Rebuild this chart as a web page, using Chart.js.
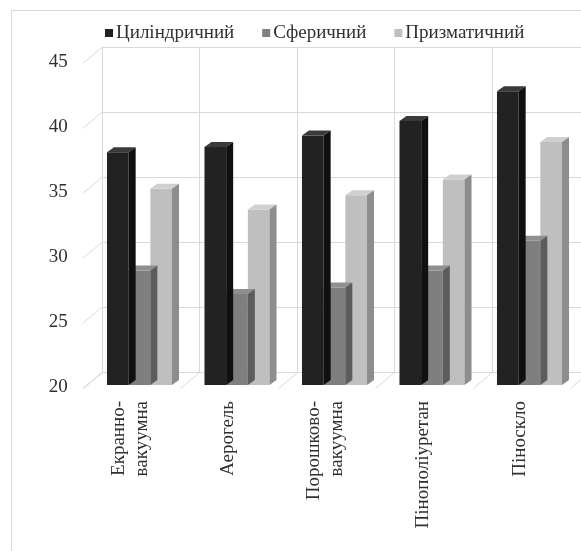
<!DOCTYPE html>
<html>
<head>
<meta charset="utf-8">
<script src="https://cdn.jsdelivr.net/npm/chart.js@4/dist/chart.umd.min.js"></script>
<style>
  html, body { margin: 0; padding: 0; background: #ffffff; }
  #wrap { width: 581px; height: 551px; }
</style>
</head>
<body>
<div id="wrap"><canvas id="c" width="581" height="551"></canvas></div>
<script>
// Insulation types (x axis) and the three tank shapes (series)
const categories = [['Екранно-', 'вакуумна'], 'Аерогель', ['Порошково-', 'вакуумна'], 'Пінополіуретан', 'Піноскло'];
const seriesNames = ['Циліндричний', 'Сферичний', 'Призматичний'];
const cylindrical = [37.9, 38.3, 39.2, 40.3, 42.6];
const spherical   = [28.8, 27.0, 27.5, 28.8, 31.1];
const prismatic   = [35.1, 33.5, 34.6, 35.8, 38.7];
const yTicks = [20, 25, 30, 35, 40, 45];

const FONT = '"Liberation Serif", "Times New Roman", serif';
const TEXT = '#303030';
const GRID = '#d9d9d9';

// front colours and shaded 3D faces for each series
const fronts = ['#222222', '#7f7f7f', '#bfbfbf'];
const tops   = ['#3a3a3a', '#8f8f8f', '#d0d0d0'];
const sides  = ['#101010', '#5c5c5c', '#8d8d8d'];

// depth of the back wall and of each column
const WALL = { x: 19, y: -16 };
const BAR = { x: 7, y: -5 };

// outer frame of the chart object
const framePlugin = {
  id: 'frame',
  beforeDraw(chart) {
    const ctx = chart.ctx;
    ctx.save();
    ctx.strokeStyle = GRID;
    ctx.lineWidth = 1;
    ctx.strokeRect(11.5, 10.5, 800, 800);
    ctx.restore();
  }
};

// back wall, floor and the slanted tick connectors
const wallPlugin = {
  id: 'wall',
  beforeDatasetsDraw(chart) {
    const { ctx, scales: { x, y } } = chart;
    const frontX = x.getPixelForValue(-0.5) - 8;
    const backShift = WALL.x - 8;
    const backY = v => y.getPixelForValue(v) + 3 + WALL.y;
    ctx.save();
    ctx.strokeStyle = GRID;
    ctx.lineWidth = 1;
    // horizontal gridlines on the back wall + connectors to the axis labels
    yTicks.forEach(v => {
      const yb = Math.round(backY(v)) + 0.5;
      ctx.beginPath();
      ctx.moveTo(frontX + WALL.x, yb);
      ctx.lineTo(chart.width + 5, yb);
      ctx.stroke();
      ctx.beginPath();
      ctx.moveTo(frontX, yb - WALL.y);
      ctx.lineTo(frontX + WALL.x, yb);
      ctx.stroke();
    });
    // vertical dividers on the back wall and floor diagonals
    const topY = Math.round(backY(yTicks[yTicks.length - 1])) + 0.5;
    const botY = Math.round(backY(yTicks[0])) + 0.5;
    for (let i = 0; i <= categories.length; i++) {
      const bx = Math.round(x.getPixelForValue(i - 0.5) + backShift) + 0.5;
      ctx.beginPath();
      ctx.moveTo(bx, topY);
      ctx.lineTo(bx, botY);
      ctx.stroke();
      ctx.beginPath();
      ctx.moveTo(bx, botY);
      ctx.lineTo(bx - WALL.x, botY - WALL.y);
      ctx.stroke();
    }
    ctx.restore();
  }
};

// top and right faces that give the columns their depth
const depthPlugin = {
  id: 'depth',
  afterDatasetDraw(chart, args) {
    const ctx = chart.ctx;
    const i = args.index;
    const floor = chart.chartArea.bottom;
    ctx.save();
    args.meta.data.forEach(el => {
      const p = el.getProps(['x', 'y', 'base', 'width'], true);
      const base = Math.min(p.base, floor);
      const x0 = p.x - p.width / 2, x1 = p.x + p.width / 2;
      ctx.fillStyle = tops[i];
      ctx.beginPath();
      ctx.moveTo(x0, p.y);
      ctx.lineTo(x1, p.y);
      ctx.lineTo(x1 + BAR.x, p.y + BAR.y);
      ctx.lineTo(x0 + BAR.x, p.y + BAR.y);
      ctx.closePath();
      ctx.fill();
      ctx.fillStyle = sides[i];
      ctx.beginPath();
      ctx.moveTo(x1, p.y);
      ctx.lineTo(x1 + BAR.x, p.y + BAR.y);
      ctx.lineTo(x1 + BAR.x, base + BAR.y);
      ctx.lineTo(x1, base);
      ctx.closePath();
      ctx.fill();
    });
    ctx.restore();
  }
};

// rotated category labels, multi-line labels centred on the category
const xLabelPlugin = {
  id: 'xLabels',
  afterDraw(chart) {
    const { ctx, scales: { x } } = chart;
    const lineH = 23;
    ctx.save();
    ctx.fillStyle = TEXT;
    ctx.font = '19px ' + FONT;
    ctx.textAlign = 'right';
    ctx.textBaseline = 'middle';
    categories.forEach((label, i) => {
      const lines = Array.isArray(label) ? label : [label];
      const cx = x.getPixelForValue(i) - 9;
      lines.forEach((line, k) => {
        const lx = cx - (lines.length - 1) * lineH / 2 + k * lineH;
        ctx.save();
        ctx.translate(lx, chart.chartArea.bottom + 16);
        ctx.rotate(-Math.PI / 2);
        ctx.fillText(line, 0, 0);
        ctx.restore();
      });
    });
    ctx.restore();
  }
};

// legend row above the plot
const legendPlugin = {
  id: 'legendRow',
  afterDraw(chart) {
    const ctx = chart.ctx;
    ctx.save();
    ctx.font = '19px ' + FONT;
    ctx.textBaseline = 'middle';
    ctx.textAlign = 'left';
    let cx = 105;
    const cy = 33;
    chart.data.datasets.forEach(ds => {
      ctx.fillStyle = ds.backgroundColor;
      ctx.fillRect(cx, cy - 4, 8, 8);
      ctx.fillStyle = TEXT;
      ctx.fillText(ds.label, cx + 11, cy);
      cx += 11 + ctx.measureText(ds.label).width + 28;
    });
    ctx.restore();
  }
};

Chart.defaults.font.family = FONT;
Chart.defaults.color = TEXT;

new Chart(document.getElementById('c'), {
  type: 'bar',
  data: {
    labels: categories,
    datasets: [
      { label: seriesNames[0], data: cylindrical, backgroundColor: fronts[0] },
      { label: seriesNames[1], data: spherical,   backgroundColor: fronts[1] },
      { label: seriesNames[2], data: prismatic,   backgroundColor: fronts[2] }
    ]
  },
  options: {
    responsive: false,
    devicePixelRatio: 1,
    animation: false,
    events: [],
    layout: { padding: { top: 60, left: 0, right: 2.75, bottom: 0 } },
    datasets: { bar: { categoryPercentage: 0.667, barPercentage: 1.0, borderWidth: 0 } },
    plugins: { legend: { display: false }, tooltip: { enabled: false } },
    scales: {
      x: {
        grid: { display: false },
        border: { display: false },
        ticks: { display: false },
        afterFit: s => { s.height = 166; }
      },
      y: {
        min: 20,
        max: 45,
        afterBuildTicks: s => { s.ticks = yTicks.map(v => ({ value: v })); },
        grid: { display: false, drawTicks: false },
        border: { display: false },
        ticks: { padding: 23, labelOffset: 2, font: { size: 19 }, color: TEXT },
        afterFit: s => { s.width = 90.75; }
      }
    }
  },
  plugins: [framePlugin, wallPlugin, depthPlugin, xLabelPlugin, legendPlugin]
});
</script>
</body>
</html>
